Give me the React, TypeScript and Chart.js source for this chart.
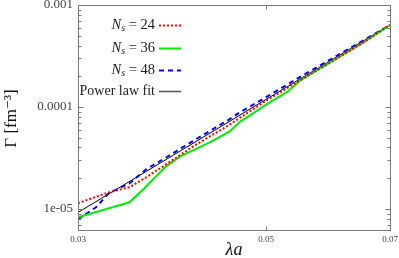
import React, { useEffect, useRef } from "react";
import { Chart, registerables } from "chart.js";

Chart.register(...registerables);

// ---- data ----
const fitX = [0.03, 0.07];
const fitY = [9.22e-6, 6.38e-4];

const ns24X = [0.03, 0.0326, 0.0345, 0.0361, 0.0381, 0.041, 0.0429, 0.0453, 0.0466, 0.0476, 0.05, 0.055, 0.06, 0.065, 0.07];
const ns24Y = [1.135e-5, 1.45e-5, 1.63e-5, 2.04e-5, 2.73e-5, 4.09e-5, 5.13e-5, 6.71e-5, 7.86e-5, 8.8e-5, 1.152e-4, 1.849e-4, 2.835e-4, 4.25e-4, 6.37e-4];

const ns36X = [0.03, 0.0345, 0.0358, 0.0381, 0.0396, 0.0429, 0.0453, 0.0466, 0.0476, 0.05, 0.053, 0.0548, 0.058, 0.065, 0.07];
const ns36Y = [8.28e-6, 1.16e-5, 1.55e-5, 2.61e-5, 3.27e-5, 4.48e-5, 5.74e-5, 7.18e-5, 8.04e-5, 1.053e-4, 1.41e-4, 1.81e-4, 2.42e-4, 4.25e-4, 6.37e-4];

const ns48X = [0.03, 0.0315, 0.0326, 0.0345, 0.0361, 0.0381, 0.041, 0.0429, 0.0453, 0.0466, 0.05, 0.055, 0.06, 0.065, 0.07];
const ns48Y = [7.91e-6, 1.036e-5, 1.42e-5, 1.78e-5, 2.44e-5, 3.19e-5, 4.63e-5, 5.8e-5, 7.6e-5, 8.9e-5, 1.247e-4, 2.0e-4, 3.03e-4, 4.45e-4, 6.37e-4];

const xTickVals = [0.03, 0.05, 0.07];
const xTickLabels = ["0.03", "0.05", "0.07"];
const yTickVals = [1e-5, 1e-4, 1e-3];
const yTickLabels = ["1e-05", "0.0001", "0.001"];

const legendItems = [
  { sub: "24", color: "#ff0000", dash: [2, 2], width: 2 },
  { sub: "36", color: "#00ee00", dash: [], width: 2 },
  { sub: "48", color: "#0000ff", dash: [5, 4], width: 2 },
];

const SERIF = "'Liberation Serif', 'DejaVu Serif', serif";

const pts = (xs: number[], ys: number[]) => xs.map((x, i) => ({ x, y: ys[i] }));

const framePlugin = {
  id: "frameAndDecor",
  afterDraw(chart: any) {
    const { ctx, chartArea: a, scales } = chart;
    const xs = scales.x;
    const ys = scales.y;
    ctx.save();
    // frame
    ctx.strokeStyle = "#7a7a7a";
    ctx.lineWidth = 1;
    ctx.setLineDash([]);
    const L = Math.round(a.left) + 0.5;
    const R = Math.round(a.right) + 0.5;
    const T = Math.round(a.top) + 0.5;
    const B = Math.round(a.bottom) + 0.5;
    ctx.strokeRect(L, T, R - L, B - T);
    // y ticks
    const yMin = ys.min, yMax = ys.max;
    ctx.beginPath();
    for (let k = -6; k <= -3; k++) {
      for (let d = 1; d <= 9; d++) {
        const v = d * Math.pow(10, k);
        if (v < yMin * 0.999 || v > yMax * 1.001) continue;
        const py = Math.round(ys.getPixelForValue(v)) + 0.5;
        const len = d === 1 ? 5 : 3;
        ctx.moveTo(L, py); ctx.lineTo(L + len, py);
        ctx.moveTo(R, py); ctx.lineTo(R - len, py);
      }
    }
    // x ticks
    xTickVals.forEach((v) => {
      const px = Math.round(xs.getPixelForValue(v)) + 0.5;
      ctx.moveTo(px, B); ctx.lineTo(px, B - 4);
      ctx.moveTo(px, T); ctx.lineTo(px, T + 4);
    });
    ctx.stroke();

    // axis titles
    ctx.fillStyle = "#111";
    ctx.textAlign = "center";
    ctx.textBaseline = "alphabetic";
    ctx.font = `italic 18px ${SERIF}`;
    ctx.fillText("λa", (a.left + a.right) / 2, 255);
    ctx.save();
    ctx.translate(12, (a.top + a.bottom) / 2 + 1);
    ctx.rotate(-Math.PI / 2);
    ctx.textBaseline = "middle";
    ctx.font = `17px ${SERIF}`;
    ctx.fillText("Γ [fm⁻³]", 0, 0);
    ctx.restore();

    // legend
    const rightX = 155;
    const rows = [25, 48, 70, 91];
    ctx.textBaseline = "middle";
    ctx.textAlign = "left";
    legendItems.forEach((it, i) => {
      const y = rows[i];
      const fN = `italic 14.5px ${SERIF}`;
      const fS = `italic 10px ${SERIF}`;
      const fR = `14.5px ${SERIF}`;
      ctx.font = fN; const wN = ctx.measureText("N").width;
      ctx.font = fS; const wS = ctx.measureText("s").width;
      const rest = " = " + it.sub;
      ctx.font = fR; const wR = ctx.measureText(rest).width;
      let x = rightX - (wN + wS + wR);
      ctx.fillStyle = "#222";
      ctx.font = fN; ctx.fillText("N", x, y); x += wN;
      ctx.font = fS; ctx.fillText("s", x, y + 3); x += wS;
      ctx.font = fR; ctx.fillText(rest, x, y);
      ctx.beginPath();
      ctx.strokeStyle = it.color;
      ctx.lineWidth = it.width;
      ctx.setLineDash(it.dash);
      ctx.moveTo(159, y + 0.5); ctx.lineTo(181, y + 0.5);
      ctx.stroke();
    });
    ctx.setLineDash([]);
    ctx.font = `14px ${SERIF}`;
    ctx.textAlign = "right";
    ctx.fillStyle = "#222";
    ctx.fillText("Power law fit", rightX, rows[3]);
    ctx.beginPath();
    ctx.strokeStyle = "#555";
    ctx.lineWidth = 1.5;
    ctx.moveTo(159, rows[3] + 0.5); ctx.lineTo(181, rows[3] + 0.5);
    ctx.stroke();
    ctx.restore();
  },
};

export default function App() {
  const ref = useRef<HTMLCanvasElement | null>(null);
  useEffect(() => {
    document.body.style.margin = "0";
    if (!ref.current) return;
    const chart = new Chart(ref.current, {
      type: "line",
      data: {
        datasets: [
          { label: "Ns=24", data: pts(ns24X, ns24Y), borderColor: "#ff0000", borderWidth: 2, borderDash: [2, 2], pointRadius: 0, fill: false, tension: 0 },
          { label: "Ns=36", data: pts(ns36X, ns36Y), borderColor: "#00ee00", borderWidth: 2, pointRadius: 0, fill: false, tension: 0 },
          { label: "Ns=48", data: pts(ns48X, ns48Y), borderColor: "#0000ff", borderWidth: 2, borderDash: [5, 4], pointRadius: 0, fill: false, tension: 0 },
          { label: "Power law fit", data: pts(fitX, fitY), borderColor: "#000000", borderWidth: 1, pointRadius: 0, fill: false, tension: 0 },
        ],
      },
      options: {
        animation: false,
        responsive: true,
        maintainAspectRatio: false,
        layout: { padding: { left: 0, top: 5, right: 9, bottom: 0 } },
        plugins: { legend: { display: false }, tooltip: { enabled: false } },
        scales: {
          x: {
            type: "logarithmic",
            min: 0.03,
            max: 0.07,
            grid: { display: false, drawTicks: false },
            border: { display: false },
            afterBuildTicks: (s: any) => { s.ticks = xTickVals.map((v) => ({ value: v })); },
            afterFit: (s: any) => { s.height = 28; s.paddingLeft = 0; s.paddingRight = 0; },
            ticks: {
              autoSkip: false,
              maxRotation: 0,
              padding: 4,
              color: "#444",
              font: { family: SERIF, size: 9 },
              callback: (_v: any, i: number) => xTickLabels[i],
            },
          },
          y: {
            type: "logarithmic",
            min: 6.2e-6,
            max: 1e-3,
            grid: { display: false, drawTicks: false },
            border: { display: false },
            afterBuildTicks: (s: any) => { s.ticks = yTickVals.map((v) => ({ value: v })); },
            afterFit: (s: any) => { s.width = 78; s.paddingTop = 0; s.paddingBottom = 0; },
            ticks: {
              autoSkip: false,
              padding: 5,
              color: "#444",
              font: { family: SERIF, size: 13 },
              callback: (_v: any, i: number) => yTickLabels[i],
            },
          },
        },
      },
      plugins: [framePlugin],
    });
    return () => chart.destroy();
  }, []);
  return (
    <div style={{ position: "fixed", left: 0, top: 0, width: 399, height: 258, background: "#fff" }}>
      <canvas ref={ref} />
    </div>
  );
}
